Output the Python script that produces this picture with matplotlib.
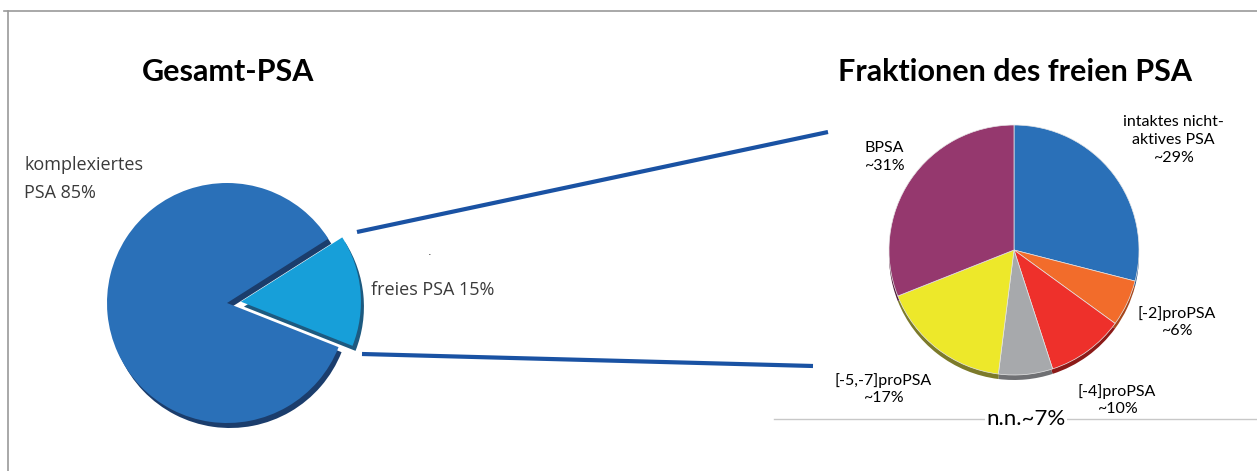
import matplotlib
matplotlib.use('Agg')
import matplotlib.pyplot as plt

W, H = 1257, 471

# left pie: total PSA
total_labels = ['freies PSA 15%', 'komplexiertes\nPSA 85%']
total_values = [15, 85]
total_colors = ['#179fd9', '#2a70b8']
total_shadow = ['#1d5a80', '#1b3d6c']

# right pie: fractions of free PSA (clockwise from top)
frac_labels = ['intaktes nicht-\naktives PSA\n~29%', '[-2]proPSA\n~6%', '[-4]proPSA\n~10%',
               'n.n.~7%', '[-5,-7]proPSA\n~17%', 'BPSA\n~31%']
frac_values = [29, 6, 10, 7, 17, 31]
frac_colors = ['#2a70b8', '#f26c2b', '#ee302b', '#a7a9ac', '#ede82a', '#95386e']
frac_shadow = ['#1b4a80', '#a4461c', '#8c1a18', '#6f7073', '#7c7a2a', '#4e1a38']


def py(y):
    # pixel row (from top) -> data y
    return H - y


fig = plt.figure(figsize=(W / 100, H / 100), dpi=100)
ax = fig.add_axes([0, 0, 1, 1])

# frame
ax.plot([4, W], [py(11), py(11)], color='#9a9a9a', lw=1.2)
ax.plot([8, 8], [py(11), 0], color='#9a9a9a', lw=1.2)
ax.plot([774, W], [py(419), py(419)], color='#c8c8c8', lw=1.0, zorder=1)

# left pie (shadow + face), explode is in pixels here
lc = (227, py(303))
expl = [14, 0]
ax.pie(total_values, colors=total_shadow, startangle=-21.6, explode=expl,
       radius=120, center=(lc[0] + 3, lc[1] - 5), frame=True,
       wedgeprops=dict(linewidth=0))
ax.pie(total_values, colors=total_colors, startangle=-21.6, explode=expl,
       radius=120, center=lc, frame=True,
       wedgeprops=dict(linewidth=0))

# right pie (shadow + face)
rc = (1014, py(250))
ax.pie(frac_values, colors=frac_shadow, startangle=90, counterclock=False,
       radius=125, center=(rc[0], rc[1] - 5), frame=True,
       wedgeprops=dict(linewidth=0))
ax.pie(frac_values, colors=frac_colors, startangle=90, counterclock=False,
       radius=125, center=rc, frame=True,
       wedgeprops=dict(linewidth=0.5, edgecolor='#e8e8e8'))

# connector lines
ax.plot([357, 828], [py(232), py(132)], color='#1a52a3', lw=3, solid_capstyle='butt')
ax.plot([362, 813], [py(354), py(366)], color='#1a52a3', lw=3, solid_capstyle='butt')

# titles
ax.text(228, py(72), 'Gesamt-PSA', ha='center', va='center', fontsize=22,
        fontweight='bold', family='Lato')
ax.text(1015, py(72), 'Fraktionen des freien PSA', ha='center', va='center',
        fontsize=22, fontweight='bold', family='Lato')

# left labels
ax.text(24, py(179), total_labels[1], ha='left', va='center', fontsize=13,
        family='Open Sans', color='#3a3a3a', linespacing=1.75)
ax.text(371, py(290), total_labels[0], ha='left', va='center', fontsize=13,
        family='Open Sans', color='#3a3a3a')
ax.text(430, py(252), '.', ha='center', va='center', fontsize=8, color='#222222')

# right labels
box = dict(facecolor='white', edgecolor='none', pad=1)
lab_pos = [(1173, 140), (1177, 322), (1117, 400), (1026, 419), (883, 389), (884, 157)]
for lab, (x, y) in zip(frac_labels, lab_pos):
    fs = 16 if lab.startswith('n.n.') else 11.5
    ax.text(x, py(y), lab, ha='center', va='center', fontsize=fs, family='Lato',
            linespacing=1.35, bbox=box, zorder=5)

ax.set_xlim(0, W)
ax.set_ylim(0, H)
ax.set_aspect('auto')
ax.axis('off')

fig.savefig('out.png', dpi=100)
